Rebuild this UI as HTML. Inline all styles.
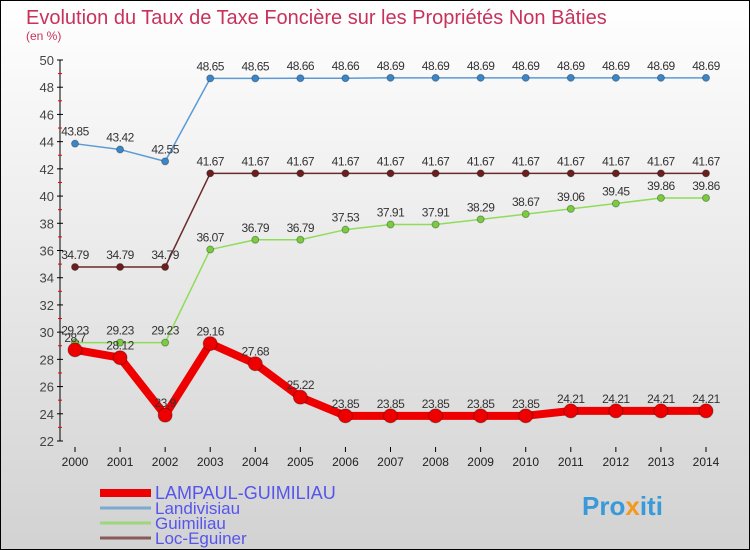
<!DOCTYPE html>
<html><head><meta charset="utf-8"><style>
body{margin:0;}
#wrap{width:750px;height:550px;position:relative;overflow:hidden;font-family:"Liberation Sans",sans-serif;}
svg{position:absolute;left:0;top:0;}
</style></head><body>
<div id="wrap">
<svg id="svg" width="750" height="550" xmlns="http://www.w3.org/2000/svg">
<defs><linearGradient id="bg" x1="0" y1="0" x2="0" y2="1"><stop offset="0" stop-color="#ffffff"/><stop offset="1" stop-color="#d2d2d2"/></linearGradient></defs>
<rect x="0.5" y="0.5" width="749" height="549" fill="url(#bg)" stroke="#000"/>
<text x="26" y="24" font-size="20" fill="#c8325a">Evolution du Taux de Taxe Foncière sur les Propriétés Non Bâties</text>
<text x="26" y="40" font-size="12" fill="#c8325a">(en %)</text>
<g id="axes"></g><g id="series"></g><g id="legend"></g>
<text x="582" y="515" font-size="26" font-weight="bold" fill="#3a9ad9">Pro<tspan fill="#f39a1e">x</tspan>iti</text>
</svg></div>
<script>
const years=["2000","2001","2002","2003","2004","2005","2006","2007","2008","2009","2010","2011","2012","2013","2014"];
const yTicks=[22,24,26,28,30,32,34,36,38,40,42,44,46,48,50];
const lampaul=[28.7,28.12,23.9,29.16,27.68,25.22,23.85,23.85,23.85,23.85,23.85,24.21,24.21,24.21,24.21];
const landivisiau=[43.85,43.42,42.55,48.65,48.65,48.66,48.66,48.69,48.69,48.69,48.69,48.69,48.69,48.69,48.69];
const guimiliau=[29.23,29.23,29.23,36.07,36.79,36.79,37.53,37.91,37.91,38.29,38.67,39.06,39.45,39.86,39.86];
const locEguiner=[34.79,34.79,34.79,41.67,41.67,41.67,41.67,41.67,41.67,41.67,41.67,41.67,41.67,41.67,41.67];
const NS="http://www.w3.org/2000/svg";
const X=i=>75+i*(706-75)/(years.length-1);
const Y=v=>441-(v-22)*(441-60)/28;
function mk(t,a,p){const e=document.createElementNS(NS,t);for(const k in a)e.setAttribute(k,a[k]);p.appendChild(e);return e;}
const ax=document.getElementById('axes');
let yl=mk('line',{x1:60,y1:60,x2:60,y2:441,stroke:'#000'},ax);


yTicks.forEach(v=>{
 mk('line',{x1:57,y1:Y(v),x2:63,y2:Y(v),stroke:'#000'},ax);
 if(v<50){mk('line',{x1:58,y1:Y(v+1),x2:62,y2:Y(v+1),stroke:'#e00'},ax);}
 const t=mk('text',{x:54,y:Y(v)+5,'font-size':13,fill:'#444','text-anchor':'end'},ax);t.textContent=v;
 
 
});
years.forEach((y,i)=>{
 mk('line',{x1:X(i),y1:447,x2:X(i),y2:452,stroke:'#000'},ax);
 const t=mk('text',{x:X(i),y:466,'font-size':12,fill:'#222','text-anchor':'middle'},ax);t.textContent=y;
 
 
});
const sg=document.getElementById('series');
function series(vals,color,dot,w,r,name){
 const g=mk('g',{},sg);
 
 
 mk('polyline',{points:vals.map((v,i)=>X(i)+','+Y(v)).join(' '),fill:'none',stroke:color,'stroke-width':w,'stroke-linejoin':'round'},g);
 vals.forEach((v,i)=>{
  const c=mk('circle',{cx:X(i),cy:Y(v),r:r,fill:dot,stroke:'rgba(0,0,0,0.3)'},g);
  
  
  const t=mk('text',{x:X(i),y:Y(v)-8,'font-size':12,fill:'#333','text-anchor':'middle','letter-spacing':'-0.5'},g);t.textContent=v;
  
  
 });
}
series(landivisiau,'#5b9bd5','#3a86c8',1.5,3.5,'landivisiau-series');
series(locEguiner,'#6b2a2a','#6b1f1f',1.5,3.5,'loc-eguiner-series');
series(guimiliau,'#8fdc5a','#7acc3f',1.5,3.5,'guimiliau-series');
series(lampaul,'#ee0000','#ee0000',8,7,'lampaul-series');
const lg=document.getElementById('legend');
const leg=[["LAMPAUL-GUIMILIAU","#ee0000",8,18],["Landivisiau","#7aaad0",3,17],["Guimiliau","#9ed67a",3,17],["Loc-Eguiner","#8a5a5a",3,17]];
leg.forEach((l,i)=>{
 const y=493+i*15;
 const g=mk('g',{},lg);
 
 
 mk('line',{x1:100,y1:y,x2:151,y2:y,stroke:l[1],'stroke-width':l[2]},g);
 const t=mk('text',{x:155,y:y+6,'font-size':l[3],fill:'#5555ee'},g);t.textContent=l[0];
});
</script>
</body></html>
